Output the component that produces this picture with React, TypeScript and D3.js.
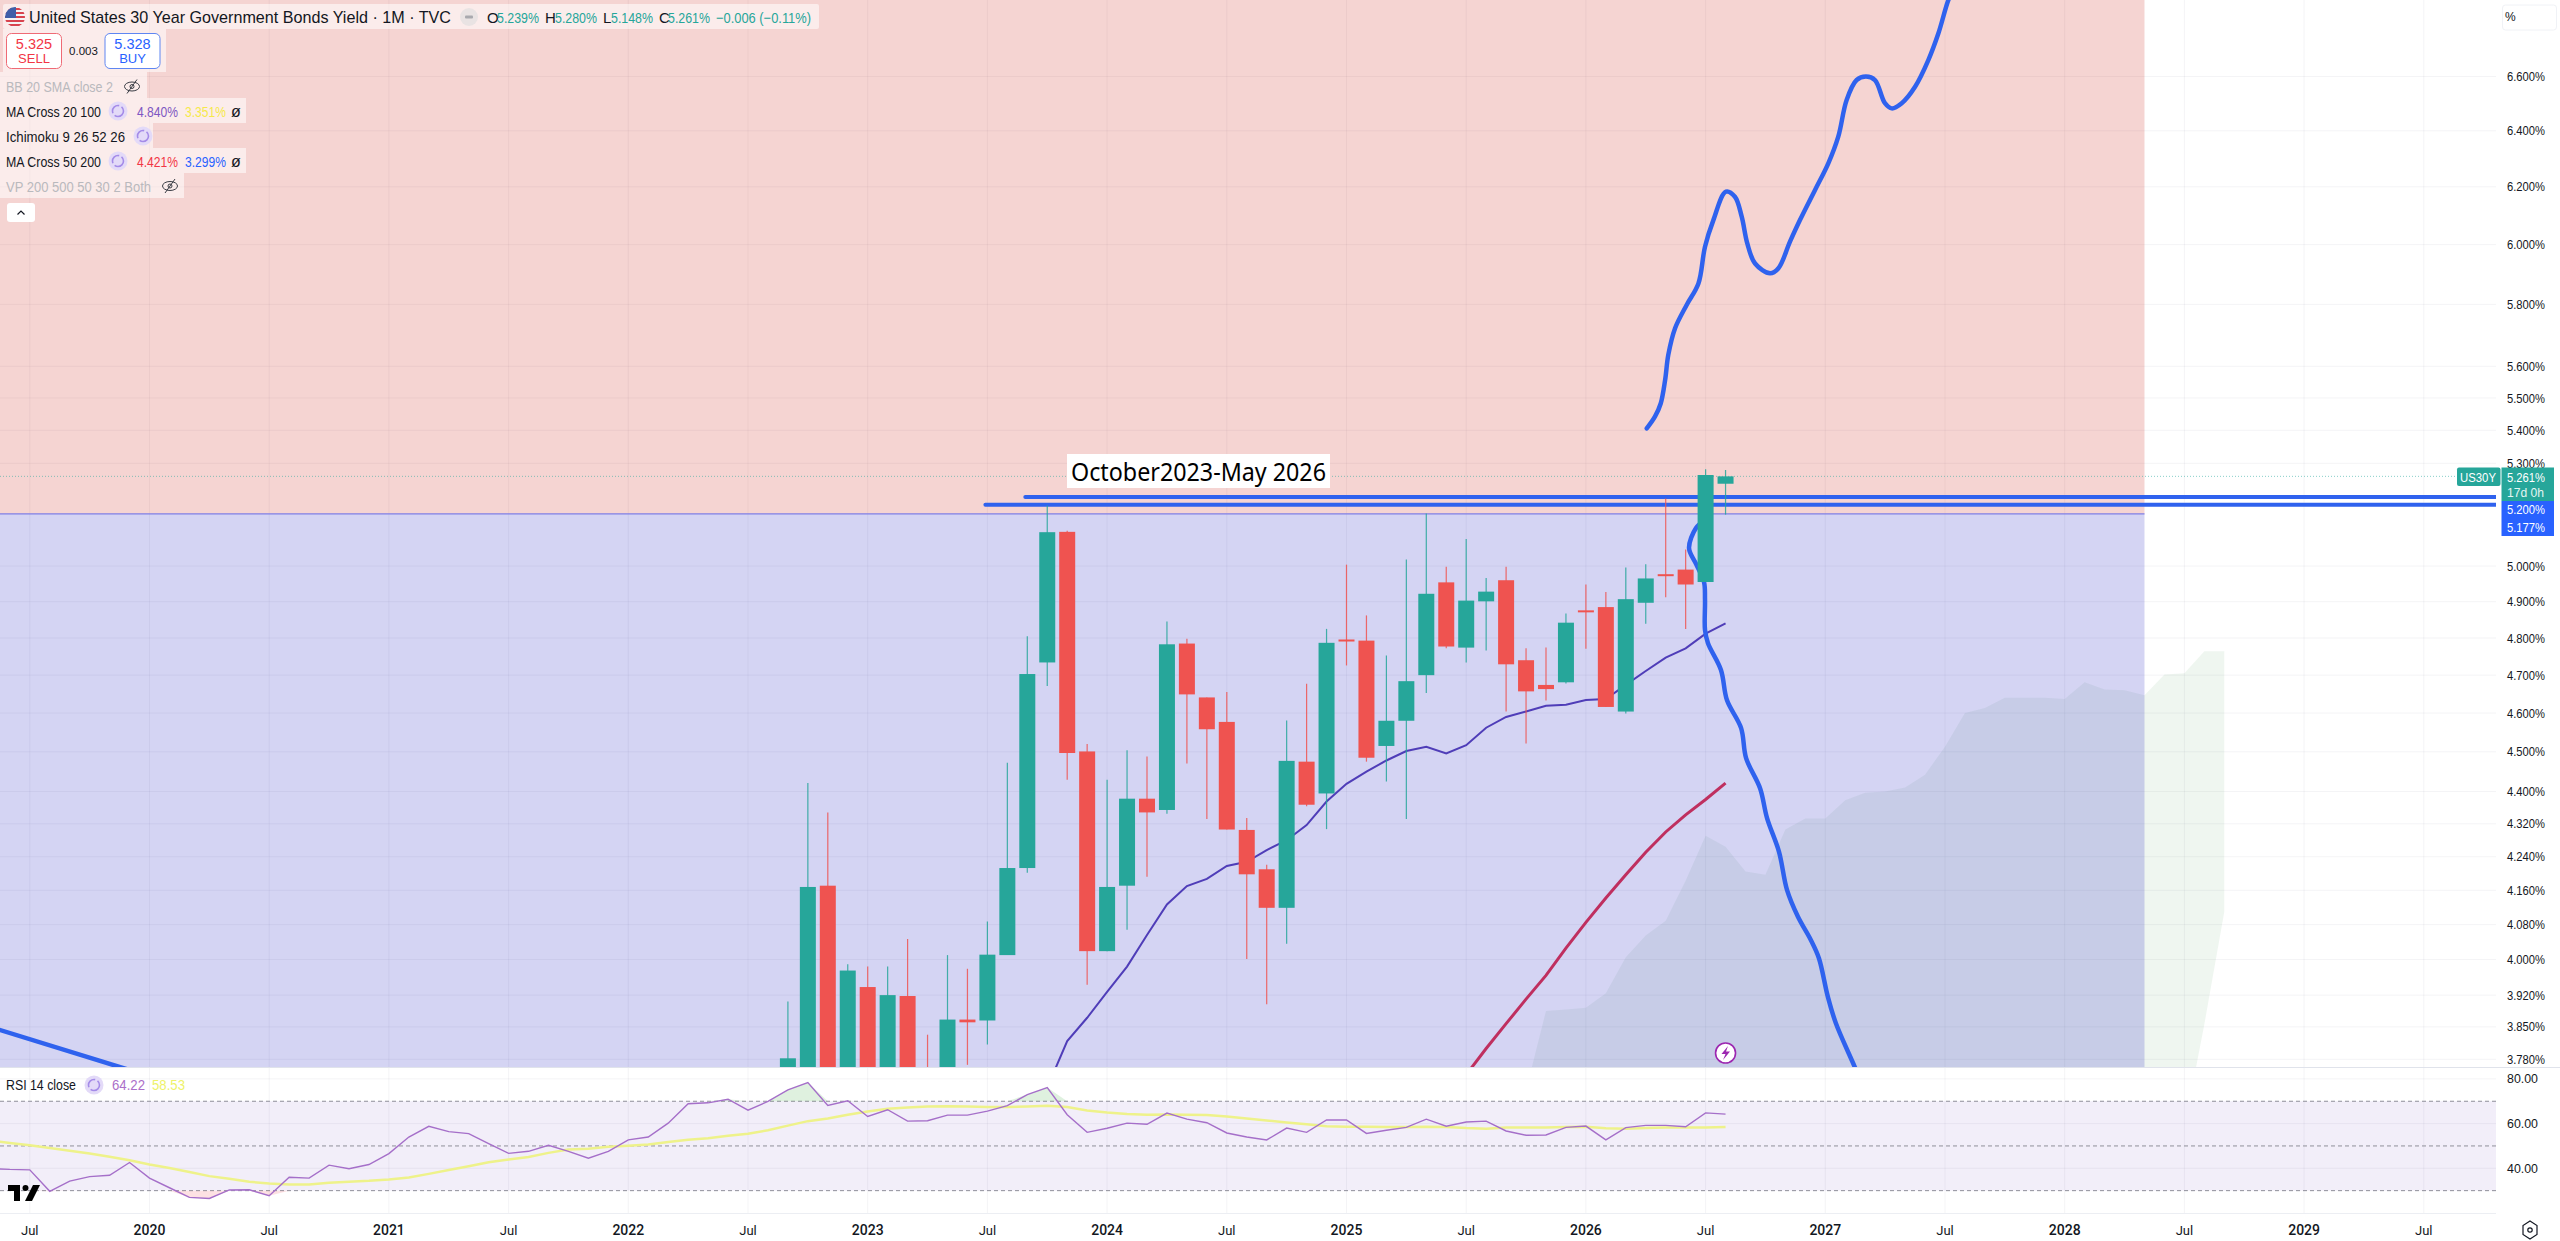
import React from "react";
import * as d3 from "d3";

const WIDTH = 2560;
const HEIGHT = 1241;
const PLOT_RIGHT = 2496;
const PANE_BOTTOM = 1067;
const RSI_BOTTOM = 1213;
const FONT = "'Liberation Sans', Arial, sans-serif";

// monthly candles, first one is Sep 2022 (month index counts from Jan 2020)
const FIRST_CANDLE = 32;
const opens = [3.62, 3.7, 4.171, 3.65, 3.938, 3.65, 3.918, 3.7, 3.65, 3.866, 3.864, 4.01, 4.213, 4.734, 5.098, 4.501, 4.019, 4.171, 4.382, 4.354, 4.785, 4.641, 4.577, 4.305, 4.21, 4.119, 4.475, 4.395, 4.796, 4.793, 4.515, 4.58, 4.7, 4.954, 4.774, 4.901, 4.96, 4.74, 4.674, 4.681, 4.876, 4.885, 4.604, 4.897, 4.977, 4.99, 4.955, 5.239];
const highs = [3.906, 4.421, 4.348, 3.989, 3.984, 3.984, 4.047, 3.833, 4.01, 3.979, 4.087, 4.472, 4.805, 5.175, 5.101, 4.52, 4.429, 4.504, 4.488, 4.845, 4.798, 4.641, 4.655, 4.334, 4.221, 4.581, 4.677, 4.825, 5.004, 4.862, 4.753, 5.019, 5.151, 4.998, 5.077, 4.966, 4.998, 4.772, 4.774, 4.867, 4.948, 4.927, 4.996, 5.005, 5.195, 5.047, 5.282, 5.28];
const lows = [3.58, 3.65, 3.6, 3.6, 3.6, 3.6, 3.6, 3.55, 3.6, 3.768, 3.812, 4.01, 4.202, 4.671, 4.429, 3.943, 4.019, 4.068, 4.192, 4.345, 4.47, 4.332, 4.306, 4.001, 3.9, 4.036, 4.363, 4.307, 4.726, 4.475, 4.425, 4.332, 4.653, 4.772, 4.734, 4.766, 4.604, 4.521, 4.633, 4.678, 4.771, 4.616, 4.599, 4.839, 4.912, 4.825, 4.955, 5.148];
const closes = [3.782, 4.168, 3.7, 3.975, 3.65, 3.92, 3.65, 3.6, 3.866, 3.86, 4.011, 4.213, 4.703, 5.097, 4.497, 4.019, 4.168, 4.382, 4.348, 4.783, 4.649, 4.558, 4.306, 4.198, 4.119, 4.477, 4.367, 4.787, 4.792, 4.485, 4.58, 4.684, 4.922, 4.777, 4.903, 4.928, 4.729, 4.657, 4.663, 4.842, 4.872, 4.616, 4.907, 4.965, 4.973, 4.948, 5.265, 5.261];

const FIRST_MA20 = 45;
const ma20 = [3.72, 3.819, 3.87, 3.927, 3.984, 4.056, 4.127, 4.17, 4.187, 4.218, 4.228, 4.256, 4.28, 4.317, 4.375, 4.419, 4.45, 4.478, 4.502, 4.513, 4.496, 4.517, 4.562, 4.59, 4.604, 4.619, 4.622, 4.634, 4.637, 4.674, 4.711, 4.747, 4.772, 4.812, 4.84];
const FIRST_MA50 = 66;
const ma50 = [3.747, 3.803, 3.857, 3.911, 3.964, 4.026, 4.085, 4.142, 4.197, 4.251, 4.3, 4.342, 4.38, 4.421];

// ichimoku cloud
const FIRST_CLOUD = 69;
const cloudTop = [3.714, 3.885, 3.888, 3.892, 3.924, 4.005, 4.055, 4.089, 4.183, 4.291, 4.264, 4.205, 4.197, 4.306, 4.333, 4.333, 4.378, 4.397, 4.4, 4.41, 4.442, 4.513, 4.6, 4.613, 4.64, 4.64, 4.64, 4.637, 4.681, 4.662, 4.66, 4.647, 4.702, 4.705, 4.764, 4.764];
const cloudBottom = [3.5, 3.5, 3.5, 3.5, 3.5, 3.5, 3.5, 3.5, 3.5, 3.5, 3.5, 3.5, 3.5, 3.5, 3.5, 3.5, 3.5, 3.5, 3.5, 3.5, 3.5, 3.5, 3.5, 3.5, 3.5, 3.5, 3.5, 3.5, 3.5, 3.5, 3.5, 3.5, 3.5, 3.636, 3.856, 4.11];

// hand drawn forecast paths [month, yield]
const upPath: [number, number][] = [[75.05, 5.406], [75.46, 5.442], [75.75, 5.483], [75.97, 5.556], [76.13, 5.636], [76.47, 5.722], [77.05, 5.798], [77.64, 5.869], [77.97, 5.993], [78.39, 6.084], [79.02, 6.183], [79.47, 6.165], [79.81, 6.096], [80.09, 6.004], [80.48, 5.936], [81.23, 5.903], [81.65, 5.92], [82.23, 6.01], [82.73, 6.084], [83.48, 6.188], [84.15, 6.283], [84.65, 6.379], [85.07, 6.513], [85.57, 6.587], [86.04, 6.6], [86.49, 6.587], [86.99, 6.501], [87.33, 6.482], [87.83, 6.501], [88.5, 6.562], [89.17, 6.663], [89.67, 6.764], [90.17, 6.893], [90.4, 6.93]];
const downPath: [number, number][] = [[77.97, 5.132], [77.52, 5.109], [77.17, 5.051], [77.52, 5.006], [77.92, 4.955], [77.97, 4.905], [77.97, 4.822], [78.12, 4.786], [78.77, 4.714], [79.07, 4.634], [79.78, 4.561], [80.03, 4.484], [80.73, 4.408], [81.08, 4.334], [81.68, 4.252], [82.08, 4.161], [82.63, 4.098], [83.28, 4.044], [83.68, 4.003], [84.13, 3.916], [84.53, 3.858], [85.48, 3.763], [85.84, 3.725]];
const leftPath: [number, number][] = [[-8, 3.85], [-1, 3.757]];

const ZONE_LEVEL = 5.15;
const ZONE_END = 100;
const RESISTANCE = [
  { price: 5.2, from: 43.9 },
  { price: 5.177, from: 41.9 },
];
const LAST_PRICE = 5.261;

const FIRST_RSI = -8;
const rsi = [39.9, 39.5, 39.3, 29.7, 34.3, 36.3, 36.9, 42.6, 35.6, 31.3, 27, 26.5, 30.3, 30.4, 27.7, 36, 35.6, 41.4, 39.8, 41.7, 46.6, 54, 58.8, 56.4, 55.5, 51, 46.7, 47.6, 50.3, 47.6, 44.5, 47.6, 52.7, 54, 60.2, 68.9, 69.3, 70.9, 66, 69.9, 75.1, 78.4, 68.1, 70.2, 63.2, 66.2, 61.1, 61.3, 63.8, 63.8, 65.6, 68, 73, 76.1, 64, 56.1, 57.9, 60.2, 59.7, 64.7, 62, 60.4, 55.8, 54, 52.7, 58, 56.1, 61.6, 61.6, 55.6, 57, 58.3, 62, 58.8, 60.7, 61.1, 56.7, 54.8, 54.9, 58.3, 58.9, 52.7, 58.2, 59.2, 59.2, 58.6, 64.8, 64.22];
const rsiMa = [52.4, 51.3, 50.3, 49.1, 47.9, 46.6, 45.2, 43.6, 41.7, 40.1, 38.3, 36.5, 35.3, 34, 33.2, 32.8, 32.8, 33.5, 34, 34.4, 35, 35.9, 37.5, 39.2, 40.9, 42.7, 43.9, 45.1, 46.9, 48.4, 48.8, 49.6, 50.1, 50.7, 51.8, 52.8, 53.4, 54.6, 55.5, 57, 59.1, 61.1, 62.3, 64, 65.4, 66.6, 67.2, 67.7, 67.8, 67.7, 67.4, 67.4, 67.7, 68, 67.4, 65.9, 65, 64.3, 64, 64.1, 64, 63.8, 63.2, 62.3, 61.4, 60.5, 59.7, 58.8, 58.6, 58.6, 58.5, 58.5, 58.6, 58.5, 58, 57.7, 58.2, 58.2, 58.3, 58.5, 58.6, 57.9, 57.7, 58, 58.2, 58.2, 58.3, 58.53];

const priceTicks = [6.6, 6.4, 6.2, 6.0, 5.8, 5.6, 5.5, 5.4, 5.3, 5.0, 4.9, 4.8, 4.7, 4.6, 4.5, 4.4, 4.32, 4.24, 4.16, 4.08, 4.0, 3.92, 3.85, 3.78];
const rsiTicks = [80, 60, 40];
const rsiLevels = [70, 50, 30];
const FIRST_TICK = -6;
const timeLabels = ["Jul", "2020", "Jul", "2021", "Jul", "2022", "Jul", "2023", "Jul", "2024", "Jul", "2025", "Jul", "2026", "Jul", "2027", "Jul", "2028", "Jul", "2029", "Jul"];

const x = d3.scaleLinear().domain([0, 78]).range([149.5, 1705.6]);
const y = d3.scaleLog().domain([3.7634, 6.8929]).range([PANE_BOTTOM, 0]);
const yRsi = d3.scaleLinear().domain([20, 80]).range([1213, 1078.9]);

const priceLine = d3.line<[number, number]>().x((d) => x(d[0])).y((d) => y(d[1]));
const smoothLine = d3.line<[number, number]>().x((d) => x(d[0])).y((d) => y(d[1])).curve(d3.curveCatmullRom);
const rsiLine = d3.line<number>().x((_, i) => x(FIRST_RSI + i)).y((d) => yRsi(d));
const obArea = d3.area<number>().x((_, i) => x(FIRST_RSI + i)).y0(yRsi(70)).y1((d) => yRsi(Math.max(d, 70)));
const osArea = d3.area<number>().x((_, i) => x(FIRST_RSI + i)).y0(yRsi(30)).y1((d) => yRsi(Math.min(d, 30)));
const cloudArea = d3.area<number>()
  .x((_, i) => x(FIRST_CLOUD + i))
  .y0((_, i) => y(cloudBottom[i]))
  .y1((d) => y(d));

const withMonths = (vals: number[], first: number) => vals.map((v, i) => [first + i, v] as [number, number]);

const T = ({ x, y, size = 14, fill = "#131722", weight = 400, len, anchor = "start", family = FONT, children }: any) => (
  <text x={x} y={y} fontSize={size} fill={fill} fontWeight={weight} textAnchor={anchor} dominantBaseline="central" fontFamily={family} textLength={len} lengthAdjust={len ? "spacingAndGlyphs" : undefined}>
    {children}
  </text>
);

const Refresh = ({ cx, cy }: { cx: number; cy: number }) => (
  <g>
    <circle cx={cx} cy={cy} r={9.5} fill="#e3daf8" />
    <circle cx={cx} cy={cy} r={5.5} fill="none" stroke="#a48be8" strokeWidth={1.6} strokeDasharray="12 2.5" />
  </g>
);

const EyeOff = ({ cx, cy }: { cx: number; cy: number }) => (
  <g fill="none" stroke="#3a3d45" strokeWidth={1}>
    <ellipse cx={cx} cy={cy} rx={7.5} ry={4.5} />
    <circle cx={cx} cy={cy} r={2} />
    <line x1={cx - 5} y1={cy + 7} x2={cx + 5} y2={cy - 7} />
  </g>
);

const Legend = () => {
  const panel = "rgba(255,255,255,0.55)";
  const up = "#26a69a";
  return (
    <g>
      <rect x={3} y={4} width={816} height={25} fill={panel} rx={2} />
      <rect x={3} y={29} width={163} height={43} fill={panel} />
      <rect x={0} y={72} width={147} height={26} fill={panel} />
      <rect x={0} y={98} width={246} height={25} fill={panel} />
      <rect x={0} y={123} width={153} height={25} fill={panel} />
      <rect x={0} y={148} width={246} height={25} fill={panel} />
      <rect x={0} y={173} width={184} height={25} fill={panel} />

      <clipPath id="flag"><circle cx={15} cy={17} r={10} /></clipPath>
      <g clipPath="url(#flag)">
        <rect x={5} y={7} width={20} height={20} fill="#f4f4f4" />
        {[8, 12, 16, 20, 24].map((s) => <rect key={s} x={5} y={s} width={20} height={2} fill="#d8434e" />)}
        <rect x={5} y={7} width={11} height={11} fill="#3f5fa8" />
      </g>
      <T x={29} y={17} size={17} len={422}>United States 30 Year Government Bonds Yield · 1M · TVC</T>
      <circle cx={469} cy={17} r={9} fill="#e9e3e3" />
      <rect x={465} y={15.5} width={8} height={3} rx={1} fill="#a9a9ae" />
      <T x={487} y={17} size={15}>O</T>
      <T x={497} y={17} size={15} fill={up} len={42}>5.239%</T>
      <T x={545} y={17} size={15}>H</T>
      <T x={555} y={17} size={15} fill={up} len={42}>5.280%</T>
      <T x={603} y={17} size={15}>L</T>
      <T x={611} y={17} size={15} fill={up} len={42}>5.148%</T>
      <T x={659} y={17} size={15}>C</T>
      <T x={668} y={17} size={15} fill={up} len={42}>5.261%</T>
      <T x={716} y={17} size={15} fill={up} len={95}>−0.006 (−0.11%)</T>

      <rect x={6.5} y={33.5} width={55} height={35} rx={5} fill="#fff" stroke="#ef6a75" />
      <T x={34} y={44} size={14.5} fill="#f23645" anchor="middle">5.325</T>
      <T x={34} y={58} size={13} fill="#f23645" anchor="middle">SELL</T>
      <T x={83.5} y={51} size={11.5} anchor="middle">0.003</T>
      <rect x={105} y={33.5} width={55} height={35} rx={5} fill="#fff" stroke="#5f86f2" />
      <T x={132.5} y={44} size={14.5} fill="#2962ff" anchor="middle">5.328</T>
      <T x={132.5} y={58} size={13} fill="#2962ff" anchor="middle">BUY</T>

      <T x={6} y={86.5} fill="#b9b9bd" size={15} len={107}>BB 20 SMA close 2</T>
      <EyeOff cx={132} cy={86.5} />

      <T x={6} y={111} size={15} len={95}>MA Cross 20 100</T>
      <Refresh cx={118} cy={111} />
      <T x={137} y={111} size={15} fill="#7e57c2" len={41}>4.840%</T>
      <T x={185} y={111} size={15} fill="#f6e94a" len={41}>3.351%</T>
      <T x={231} y={111} size={16}>ø</T>

      <T x={6} y={136} size={15} len={119}>Ichimoku 9 26 52 26</T>
      <Refresh cx={143} cy={136} />

      <T x={6} y={161} size={15} len={95}>MA Cross 50 200</T>
      <Refresh cx={118} cy={161} />
      <T x={137} y={161} size={15} fill="#f23645" len={41}>4.421%</T>
      <T x={185} y={161} size={15} fill="#2962ff" len={41}>3.299%</T>
      <T x={231} y={161} size={16}>ø</T>

      <T x={6} y={186} fill="#b9b9bd" size={15} len={145}>VP 200 500 50 30 2 Both</T>
      <EyeOff cx={170} cy={186} />

      <rect x={7} y={203} width={28} height={19} rx={3} fill="#fff" />
      <path d="M17.5 214.5 L21 211 L24.5 214.5" fill="none" stroke="#131722" strokeWidth={1.2} />

      <T x={6} y={1085} size={14.5} len={70}>RSI 14 close</T>
      <Refresh cx={94} cy={1085} />
      <T x={112} y={1085} size={14.5} fill="#ab6fc9" len={33}>64.22</T>
      <T x={152} y={1085} size={14.5} fill="#eef26a" len={33}>58.53</T>
    </g>
  );
};

export default function App() {
  const tickMonths = timeLabels.map((_, i) => FIRST_TICK + i * 6);
  const gridStroke = "rgba(60,60,110,0.06)";
  const candleW = 16;
  const up = "#26a69a";
  const down = "#ef5350";
  const drawn = "#2f62ee";
  const zoneX0 = x(FIRST_RSI);
  const zoneX1 = x(ZONE_END);
  return (
    <svg width={WIDTH} height={HEIGHT} style={{ position: "absolute", left: 0, top: 0, display: "block", background: "#fff" }}>
      <defs>
        <clipPath id="pane"><rect x={0} y={0} width={PLOT_RIGHT} height={PANE_BOTTOM} /></clipPath>
        <clipPath id="rsi-pane"><rect x={0} y={PANE_BOTTOM + 1} width={PLOT_RIGHT} height={RSI_BOTTOM - PANE_BOTTOM} /></clipPath>
      </defs>

      <g clipPath="url(#pane)">
        {priceTicks.map((t) => <line key={t} x1={0} x2={PLOT_RIGHT} y1={y(t)} y2={y(t)} stroke={gridStroke} />)}
        {tickMonths.map((m) => <line key={m} x1={x(m)} x2={x(m)} y1={0} y2={PANE_BOTTOM} stroke={gridStroke} />)}
        {/* cloud sits under the two translucent zones, that is what turns it blue */}
        <path d={cloudArea(cloudTop) ?? ""} fill="rgba(76,160,90,0.09)" />
        <rect x={zoneX0} y={0} width={zoneX1 - zoneX0} height={y(ZONE_LEVEL)} fill="rgba(205,40,30,0.2)" />
        <rect x={zoneX0} y={y(ZONE_LEVEL)} width={zoneX1 - zoneX0} height={PANE_BOTTOM - y(ZONE_LEVEL)} fill="rgba(40,40,195,0.2)" />
        <line x1={zoneX0} x2={zoneX1} y1={y(ZONE_LEVEL)} y2={y(ZONE_LEVEL)} stroke="#7f7fe6" strokeWidth={1.2} />
        <line x1={0} x2={PLOT_RIGHT} y1={y(LAST_PRICE)} y2={y(LAST_PRICE)} stroke={up} strokeOpacity={0.55} strokeDasharray="1 2" />

        <path d={priceLine(withMonths(ma50, FIRST_MA50)) ?? ""} fill="none" stroke="#bf2f5f" strokeWidth={3} />
        <path d={priceLine(withMonths(ma20, FIRST_MA20)) ?? ""} fill="none" stroke="#4f3db8" strokeWidth={2} />

        {RESISTANCE.map((r) => (
          <line key={r.price} x1={x(r.from)} x2={PLOT_RIGHT} y1={y(r.price)} y2={y(r.price)} stroke={drawn} strokeWidth={4} strokeLinecap="round" />
        ))}
        <path d={priceLine(leftPath) ?? ""} fill="none" stroke={drawn} strokeWidth={4.5} />
        <path d={smoothLine(upPath) ?? ""} fill="none" stroke={drawn} strokeWidth={4.5} strokeLinecap="round" />
        <path d={smoothLine(downPath) ?? ""} fill="none" stroke={drawn} strokeWidth={4.5} strokeLinecap="round" />

        {closes.map((c, i) => {
          const cx = x(FIRST_CANDLE + i);
          const o = opens[i];
          const color = c >= o ? up : down;
          const top = y(Math.max(o, c));
          const h = Math.max(2, y(Math.min(o, c)) - top);
          return (
            <g key={i}>
              <line x1={cx} x2={cx} y1={y(highs[i])} y2={y(lows[i])} stroke={color} strokeWidth={1.2} strokeOpacity={0.85} />
              <rect x={cx - candleW / 2} y={top} width={candleW} height={h} fill={color} />
            </g>
          );
        })}

        <rect x={1067} y={454} width={263} height={34} fill="#fff" />
        <text x={1071} y={471} fontSize={26} fill="#000" dominantBaseline="central" fontFamily="'Noto Sans', sans-serif" textLength={255} lengthAdjust="spacingAndGlyphs">October2023-May 2026</text>

        <circle cx={x(79)} cy={1053} r={10} fill="#fff" stroke="#9c27b0" strokeWidth={1.6} />
        <path d="M1728 1046 L1721.5 1054 L1725.5 1054 L1723 1060 L1730 1051.5 L1726 1051.5 Z" fill="#9c27b0" />
      </g>

      <line x1={0} x2={WIDTH} y1={PANE_BOTTOM + 0.5} y2={PANE_BOTTOM + 0.5} stroke="#e0e3eb" />

      <g clipPath="url(#rsi-pane)">
        <rect x={0} y={yRsi(70)} width={PLOT_RIGHT} height={yRsi(30) - yRsi(70)} fill="rgba(126,87,194,0.1)" />
        {rsiTicks.map((t) => <line key={t} x1={0} x2={PLOT_RIGHT} y1={yRsi(t)} y2={yRsi(t)} stroke={gridStroke} />)}
        {tickMonths.map((m) => <line key={m} x1={x(m)} x2={x(m)} y1={PANE_BOTTOM} y2={RSI_BOTTOM} stroke={gridStroke} />)}
        {rsiLevels.map((t) => (
          <line key={t} x1={0} x2={PLOT_RIGHT} y1={yRsi(t)} y2={yRsi(t)} stroke="#8f8f99" strokeDasharray="4 3" />
        ))}
        <path d={obArea(rsi) ?? ""} fill="rgba(76,175,80,0.18)" />
        <path d={osArea(rsi) ?? ""} fill="rgba(242,54,69,0.15)" />
        <path d={rsiLine(rsiMa) ?? ""} fill="none" stroke="#eef28a" strokeWidth={2.5} />
        <path d={rsiLine(rsi) ?? ""} fill="none" stroke="#a56fc9" strokeWidth={1.4} />
      </g>
      <line x1={0} x2={PLOT_RIGHT} y1={RSI_BOTTOM + 0.5} y2={RSI_BOTTOM + 0.5} stroke="#eceef3" />

      <Legend />

      <g fill="#000">
        <path d="M8 1185 H20 V1201 H14 V1191 H8 Z" />
        <circle cx={25.5} cy={1188} r={3} />
        <path d="M33 1185 H40 L32 1201 H25 Z" />
      </g>

      {priceTicks.map((t) => (
        <T key={t} x={2507} y={y(t)} size={13} len={38}>{t.toFixed(3)}%</T>
      ))}
      {rsiTicks.map((t) => (
        <T key={t} x={2507} y={yRsi(t)} size={13} len={31}>{t.toFixed(2)}</T>
      ))}
      <rect x={2502.5} y={5} width={54} height={25} rx={3} fill="#fff" stroke="#f0f2f6" />
      <T x={2505} y={17} size={12}>%</T>

      <rect x={2457} y={467.5} width={43.5} height={18.5} rx={2} fill="#26a69a" />
      <T x={2460} y={477} size={13.5} fill="#fff" len={36}>US30Y</T>
      <rect x={2501.5} y={467.5} width={52.5} height={33.5} fill="#26a69a" />
      <T x={2507} y={477} size={13} fill="#fff" len={38}>5.261%</T>
      <T x={2507} y={492} size={13} fill="#e4f5f3" len={37}>17d 0h</T>
      <rect x={2501.5} y={501} width={52.5} height={35} fill="#2962ff" />
      <T x={2507} y={509.5} size={13} fill="#fff" len={38}>5.200%</T>
      <T x={2507} y={527} size={13} fill="#fff" len={38}>5.177%</T>

      {timeLabels.map((l, i) => (
        <T key={i} x={x(FIRST_TICK + i * 6)} y={1230} size={l === "Jul" ? 13 : 14} weight={l === "Jul" ? 400 : 500} family="Roboto, 'Liberation Sans', sans-serif" anchor="middle">{l}</T>
      ))}
      <path d="M2530 1221 L2537 1225.5 V1234.5 L2530 1239 L2523 1234.5 V1225.5 Z" fill="none" stroke="#131722" strokeWidth={1.2} />
      <circle cx={2530} cy={1230} r={2.2} fill="none" stroke="#131722" strokeWidth={1.2} />
    </svg>
  );
}
